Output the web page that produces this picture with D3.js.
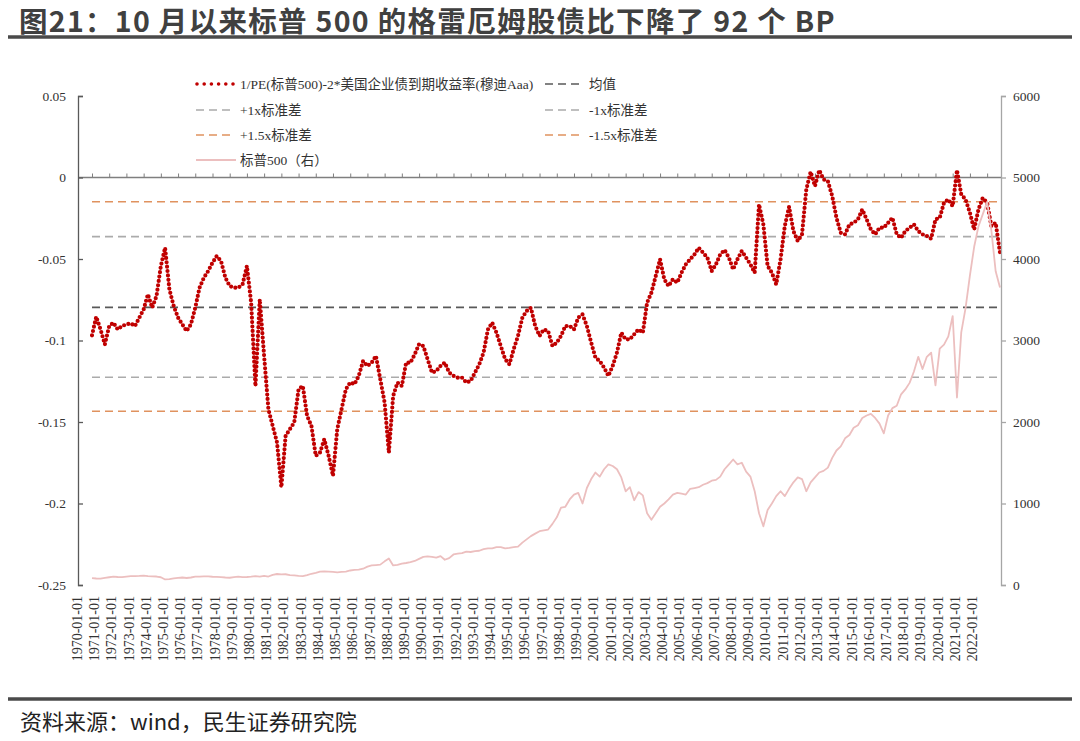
<!DOCTYPE html>
<html>
<head>
<meta charset="utf-8">
<script src="https://cdn.jsdelivr.net/npm/d3@7"></script>
<style>
  body { margin: 0; background: #fff; }
  svg { display: block; }
  .serif { font-family: "Liberation Serif", "Times New Roman", "Noto Sans CJK SC", serif; }
</style>
</head>
<body>
<svg id="chart" width="1080" height="741"></svg>
<script>
// 1/PE(标普500) - 2*穆迪Aaa 收益率，季度读数（1970Q1 - 2022Q4）
const ratioValues = [
  -0.0968, -0.0854, -0.0932, -0.1024,
  -0.0911, -0.0891, -0.0932, -0.0911,
  -0.0901, -0.0895, -0.0911, -0.0860,
  -0.0809, -0.0717, -0.0799, -0.0727,
  -0.0543, -0.0431, -0.0686, -0.0789,
  -0.0860, -0.0901, -0.0942, -0.0901,
  -0.0799, -0.0676, -0.0615, -0.0574,
  -0.0523, -0.0482, -0.0513, -0.0615,
  -0.0666, -0.0676, -0.0676, -0.0656,
  -0.0543, -0.0768, -0.1280, -0.0748,
  -0.1095, -0.1422, -0.1524, -0.1626,
  -0.1900, -0.1585, -0.1544, -0.1503,
  -0.1299, -0.1279, -0.1463, -0.1524,
  -0.1708, -0.1687, -0.1606, -0.1708,
  -0.1830, -0.1544, -0.1422, -0.1299,
  -0.1258, -0.1268, -0.1217, -0.1126,
  -0.1156, -0.1136, -0.1095, -0.1238,
  -0.1381, -0.1687, -0.1340, -0.1258,
  -0.1279, -0.1136, -0.1136, -0.1085,
  -0.1023, -0.1034, -0.1115, -0.1197,
  -0.1187, -0.1156, -0.1136, -0.1197,
  -0.1217, -0.1228, -0.1228, -0.1258,
  -0.1248, -0.1197, -0.1146, -0.1074,
  -0.0932, -0.0891, -0.0952, -0.1034,
  -0.1115, -0.1146, -0.1054, -0.0972,
  -0.0860, -0.0819, -0.0799, -0.0911,
  -0.0972, -0.0932, -0.0942, -0.1034,
  -0.1013, -0.0972, -0.0911, -0.0911,
  -0.0932, -0.0860, -0.0840, -0.0911,
  -0.1013, -0.1105, -0.1126, -0.1166,
  -0.1217, -0.1156, -0.1074, -0.0952,
  -0.0993, -0.0993, -0.0962, -0.0932,
  -0.0952, -0.0768, -0.0707, -0.0605,
  -0.0502, -0.0625, -0.0666, -0.0625,
  -0.0645, -0.0584, -0.0533, -0.0502,
  -0.0472, -0.0431, -0.0461, -0.0492,
  -0.0574, -0.0533, -0.0472, -0.0445,
  -0.0492, -0.0564, -0.0502, -0.0451,
  -0.0492, -0.0533, -0.0584, -0.0165,
  -0.0288, -0.0543, -0.0584, -0.0656,
  -0.0502, -0.0298, -0.0180, -0.0329,
  -0.0390, -0.0349, -0.0074, 0.0035,
  -0.0053, 0.0045, -0.0012, -0.0023,
  -0.0114, -0.0247, -0.0339, -0.0349,
  -0.0288, -0.0278, -0.0257, -0.0196,
  -0.0257, -0.0319, -0.0349, -0.0308,
  -0.0308, -0.0278, -0.0247, -0.0349,
  -0.0370, -0.0329, -0.0308, -0.0288,
  -0.0329, -0.0349, -0.0359, -0.0376,
  -0.0257, -0.0247, -0.0155, -0.0135,
  -0.0176, 0.0045, -0.0104, -0.0135,
  -0.0217, -0.0319, -0.0196, -0.0125,
  -0.0155, -0.0298, -0.0278, -0.0461
]

// 标普500 指数（右轴），季度读数
const spxValues = [
  85, 80, 78, 88,
  95, 102, 98, 96,
  103, 108, 110, 112,
  116, 108, 106, 104,
  95, 68, 72, 80,
  88, 92, 86, 92,
  102, 103, 105, 106,
  101, 99, 97, 92,
  89, 96, 102, 96,
  98, 102, 108, 104,
  112, 104, 125, 135,
  130, 132, 122, 118,
  112, 110, 120, 138,
  150, 164, 166, 165,
  160, 155, 160, 165,
  178, 185, 188, 200,
  225, 240, 245, 250,
  290, 325, 240, 248,
  262, 270, 280, 295,
  320, 345, 350, 345,
  335, 355, 310, 330,
  375, 385, 390, 410,
  405, 415, 420, 440,
  450, 450, 465, 465,
  450, 455, 465, 470,
  520, 560, 600, 630,
  660, 670, 680, 750,
  830, 950, 960, 1050,
  1110, 1130, 1000, 1190,
  1300, 1380, 1330, 1420,
  1480, 1460, 1420, 1320,
  1150, 1200, 1040, 1140,
  1100, 880, 800, 880,
  960, 1000, 1050, 1110,
  1130, 1120, 1110, 1180,
  1190, 1200, 1230, 1250,
  1280, 1290, 1330, 1420,
  1480, 1540, 1480, 1500,
  1390, 1330, 1150, 880,
  720, 920, 1000, 1090,
  1150, 1090, 1180, 1260,
  1320, 1300, 1150, 1260,
  1320, 1380, 1400, 1440,
  1560, 1650, 1700, 1800,
  1840, 1930, 1960, 2050,
  2080, 2100, 2050, 1980,
  1860, 2080, 2170, 2200,
  2340, 2400, 2480, 2620,
  2800, 2650, 2800, 2850,
  2450, 2900, 2950, 3050,
  3300, 2300, 3100, 3400,
  3800, 4150, 4400, 4550,
  4700, 4350, 3850, 3650
]

// 均值与标准差线
const refKeys = ['p15', 'p1', 'mean', 'm1', 'm15']
const refValues = [-0.0149, -0.0363, -0.0797, -0.1225, -0.1434]

const leftTicks = [0.05, 0, -0.05, -0.1, -0.15, -0.2, -0.25]
const leftTickLabels = ['0.05', '0', '-0.05', '-0.1', '-0.15', '-0.2', '-0.25']
const rightTicks = [0, 1000, 2000, 3000, 4000, 5000, 6000]
const labelYears = d3.range(1970, 2023)

const legendLabels = [
  '1/PE(标普500)-2*美国企业债到期收益率(穆迪Aaa)', '均值',
  '+1x标准差', '-1x标准差',
  '+1.5x标准差', '-1.5x标准差',
  '标普500（右）'
]

const RED = '#C00000'
const PINK = '#ECBFBF'
const refStyle = {
  mean: { color: '#595959' },
  p1: { color: '#ABABAB' }, m1: { color: '#ABABAB' },
  p15: { color: '#E0925F' }, m15: { color: '#E0925F' }
}

const svg = d3.select('#chart')
const plot = { left: 78, right: 1001, top: 96, bottom: 585 }

const dates = d3.timeMonth.every(3).range(new Date(1970, 0, 1), new Date(2022, 10, 1))
const x = d3.scaleTime()
  .domain([dates[0], dates[dates.length - 1]])
  .range([92, 1000])
const yL = d3.scaleLinear().domain([-0.25, 0.05]).range([plot.bottom, plot.top])
const yR = d3.scaleLinear().domain([0, 6000]).range([plot.bottom, plot.top])

// 标题
svg.append('text')
  .attr('x', 19).attr('y', 32)
  .attr('font-family', '"Noto Sans CJK SC", sans-serif')
  .attr('font-weight', 700)
  .attr('font-size', 28.5)
  .attr('letter-spacing', 1.3)
  .attr('fill', '#404040')
  .text('图21：10 月以来标普 500 的格雷厄姆股债比下降了 92 个 BP')
svg.append('line')
  .attr('x1', 8).attr('x2', 1072).attr('y1', 37).attr('y2', 37)
  .attr('stroke', '#4a4a4a').attr('stroke-width', 3.5)

// 参考线
refKeys.forEach((k, i) => {
  svg.append('path')
    .datum(dates.map(d => ({ d, v: refValues[i] })))
    .attr('fill', 'none')
    .attr('stroke', refStyle[k].color)
    .attr('stroke-width', 1.6)
    .attr('stroke-dasharray', '8,5')
    .attr('d', d3.line().x(p => x(p.d)).y(p => yL(p.v)))
})

// 横轴（位于 0）
const xAxisG = svg.append('g').attr('transform', `translate(0,${yL(0)})`)
xAxisG.call(d3.axisTop(x)
  .tickValues(labelYears.map(y => new Date(y, 0, 1)))
  .tickSize(4).tickSizeOuter(0).tickFormat(''))
xAxisG.select('.domain').remove()
xAxisG.selectAll('.tick line').attr('stroke', '#7f7f7f')
xAxisG.append('line')
  .attr('x1', plot.left).attr('x2', plot.right)
  .attr('stroke', '#7f7f7f').attr('stroke-width', 1.3)

// 格雷厄姆股债比（圆点）
const lineRatio = d3.line()
  .x((v, i) => x(dates[i]))
  .y(v => yL(v))
svg.append('path')
  .datum(ratioValues.slice(0, dates.length))
  .attr('fill', 'none')
  .attr('stroke', RED)
  .attr('stroke-width', 4.2)
  .attr('stroke-linecap', 'round')
  .attr('stroke-dasharray', '0,4.4')
  .attr('d', lineRatio)

// 标普500（右轴）
const lineSpx = d3.line()
  .x((v, i) => x(dates[i]))
  .y(v => yR(v))
svg.append('path')
  .datum(spxValues.slice(0, dates.length))
  .attr('fill', 'none')
  .attr('stroke', PINK)
  .attr('stroke-width', 1.8)
  .attr('stroke-linejoin', 'round')
  .attr('d', lineSpx)

// 左轴
const leftG = svg.append('g')
  .attr('transform', `translate(${plot.left},0)`)
  .attr('class', 'serif')
leftG.call(d3.axisLeft(yL)
  .tickValues(leftTicks)
  .tickFormat((d, i) => leftTickLabels[i])
  .tickSize(-5).tickPadding(12))
leftG.selectAll('text').attr('font-size', 13.5).attr('fill', '#333').attr('font-family', null)
leftG.selectAll('line, path').attr('stroke', '#595959').attr('stroke-width', 1.3)

// 右轴
const rightG = svg.append('g')
  .attr('transform', `translate(${plot.right},0)`)
  .attr('class', 'serif')
rightG.call(d3.axisRight(yR)
  .tickValues(rightTicks)
  .tickFormat(d3.format('d'))
  .tickSize(5).tickPadding(7))
rightG.selectAll('text').attr('font-size', 13.5).attr('fill', '#333').attr('font-family', null)
rightG.selectAll('line, path').attr('stroke', '#a6a6a6').attr('stroke-width', 1.3)

// 日期标签（竖排）
svg.append('g').attr('class', 'serif')
  .selectAll('text')
  .data(labelYears)
  .enter()
  .append('text')
  .attr('transform', y => `translate(${x(new Date(y, 0, 1)) - 15},596) rotate(-90)`)
  .attr('text-anchor', 'end')
  .attr('dy', '0.35em')
  .attr('font-size', 14)
  .attr('fill', '#333')
  .text(y => `${y}-01-01`)

// 图例
const legendG = svg.append('g').attr('class', 'serif')
const legendRows = [84, 110, 135, 160]
const legendItems = [
  { kind: 'dot', color: RED, col: 0, row: 0, label: legendLabels[0] },
  { kind: 'dash', color: refStyle.mean.color, col: 1, row: 0, label: legendLabels[1] },
  { kind: 'dash', color: refStyle.p1.color, col: 0, row: 1, label: legendLabels[2] },
  { kind: 'dash', color: refStyle.m1.color, col: 1, row: 1, label: legendLabels[3] },
  { kind: 'dash', color: refStyle.p15.color, col: 0, row: 2, label: legendLabels[4] },
  { kind: 'dash', color: refStyle.m15.color, col: 1, row: 2, label: legendLabels[5] },
  { kind: 'solid', color: PINK, col: 0, row: 3, label: legendLabels[6] }
]
const colX = [196, 545]
legendItems.forEach(it => {
  const x0 = colX[it.col]
  const yy = legendRows[it.row]
  const ln = legendG.append('line')
    .attr('x1', x0).attr('x2', x0 + 37).attr('y1', yy).attr('y2', yy)
    .attr('stroke', it.color)
  if (it.kind === 'dot') {
    ln.attr('stroke-width', 3.6).attr('stroke-linecap', 'round')
      .attr('stroke-dasharray', '0,7.2').attr('x1', x0 + 1).attr('x2', x0 + 38)
  } else if (it.kind === 'dash') {
    ln.attr('stroke-width', 1.6).attr('stroke-dasharray', '8,5')
  } else {
    ln.attr('stroke-width', 1.8).attr('x2', x0 + 40)
  }
  legendG.append('text')
    .attr('x', x0 + 44).attr('y', yy).attr('dy', '0.36em')
    .attr('font-size', 13.5).attr('fill', '#333')
    .text(it.label)
})

// 底部
svg.append('line')
  .attr('x1', 8).attr('x2', 1072).attr('y1', 699).attr('y2', 699)
  .attr('stroke', '#4a4a4a').attr('stroke-width', 3.5)
svg.append('text')
  .attr('x', 20).attr('y', 730)
  .attr('font-family', '"Noto Sans CJK SC", sans-serif')
  .attr('font-size', 22)
  .attr('fill', '#222')
  .text('资料来源：wind，民生证券研究院')
</script>
</body>
</html>
